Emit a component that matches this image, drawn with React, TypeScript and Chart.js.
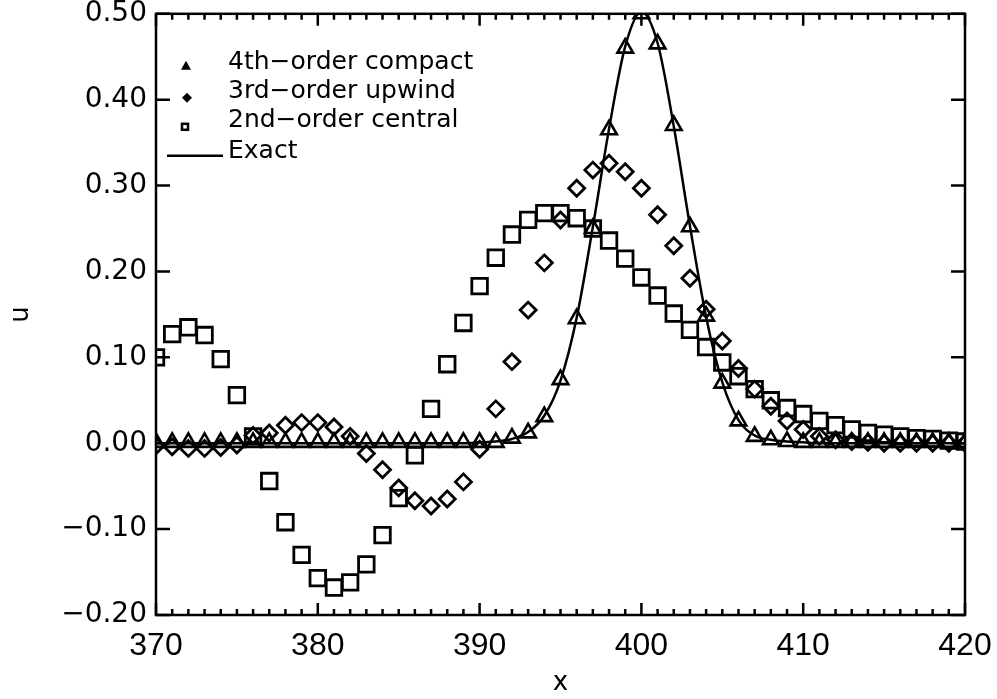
import React, { useEffect, useRef } from 'react';
import { Chart, registerables } from 'chart.js';

Chart.register(...registerables);

const xValues = [
  370, 371, 372, 373, 374, 375, 376, 377, 378, 379,
  380, 381, 382, 383, 384, 385, 386, 387, 388, 389,
  390, 391, 392, 393, 394, 395, 396, 397, 398, 399,
  400, 401, 402, 403, 404, 405, 406, 407, 408, 409,
  410, 411, 412, 413, 414, 415, 416, 417, 418, 419, 420,
];

const compact4 = [
  0.001, 0.001, 0.001, 0.001, 0.001, 0.001, 0.001, 0.001, 0.001, 0.001,
  0.001, 0.001, 0.001, 0.001, 0.001, 0.001, 0.001, 0.001, 0.001, 0.001,
  0.001, 0.001, 0.006, 0.012, 0.031, 0.074, 0.145, 0.250, 0.365, 0.460,
  0.500, 0.465, 0.370, 0.252, 0.148, 0.070, 0.026, 0.008, 0.004, 0.002,
  0.001, 0.001, 0.001, 0.001, 0.001, 0.001, 0.001, 0.001, 0.001, 0.001, 0.001,
];

const upwind3 = [
  -0.003, -0.004, -0.006, -0.006, -0.005, -0.002, 0.009, 0.012, 0.021, 0.024,
  0.024, 0.019, 0.008, -0.012, -0.031, -0.052, -0.067, -0.073, -0.065, -0.045,
  -0.007, 0.040, 0.095, 0.155, 0.210, 0.260, 0.297, 0.318, 0.326, 0.316,
  0.297, 0.266, 0.230, 0.192, 0.156, 0.119, 0.087, 0.063, 0.043, 0.026,
  0.016, 0.008, 0.004, 0.002, 0.001, 0, 0, 0, 0, 0, 0,
];

const central2 = [
  0.100, 0.127, 0.135, 0.126, 0.098, 0.056, 0.008, -0.044, -0.092, -0.130,
  -0.157, -0.168, -0.162, -0.141, -0.107, -0.064, -0.014, 0.040, 0.092, 0.140,
  0.183, 0.216, 0.243, 0.260, 0.268, 0.268, 0.262, 0.250, 0.236, 0.215,
  0.193, 0.172, 0.151, 0.132, 0.112, 0.094, 0.078, 0.063, 0.050, 0.041,
  0.034, 0.026, 0.021, 0.016, 0.012, 0.010, 0.008, 0.006, 0.005, 0.003, 0.002,
];

const exact = [
  0, 0, 0, 0, 0, 0, 0, 0, 0, 0,
  0, 0, 0, 0, 0, 0, 0, 0, 0, 0,
  0.001, 0.002, 0.005, 0.013, 0.032, 0.073, 0.146, 0.252, 0.366, 0.462,
  0.502, 0.466, 0.369, 0.253, 0.147, 0.071, 0.027, 0.009, 0.004, 0.002,
  0.001, 0, 0, 0, 0, 0, 0, 0, 0, 0, 0,
];

const xTickLabels = [370, 380, 390, 400, 410, 420];
const yTickValues = [-0.2, -0.1, 0.0, 0.1, 0.2, 0.3, 0.4, 0.5];
const xMinorStep = 1;
const seriesNames = ['4th\u2212order compact', '3rd\u2212order upwind', '2nd\u2212order central', 'Exact'];

const toPoints = (ys: number[]) => ys.map((y, i) => ({ x: xValues[i], y }));

const framePlugin = {
  id: 'frameTicksLegend',
  afterDatasetsDraw(chart: any) {
    const { ctx, chartArea: a, scales } = chart;
    const xs = scales.x;
    const ys = scales.y;
    ctx.save();
    ctx.strokeStyle = '#000';
    ctx.fillStyle = '#000';
    ctx.lineWidth = 2.5;
    ctx.lineCap = 'butt';
    ctx.strokeRect(a.left, a.top, a.right - a.left, a.bottom - a.top);
    ctx.beginPath();
    const xmin = xTickLabels[0];
    const xmax = xTickLabels[xTickLabels.length - 1];
    for (let v = xmin; v <= xmax + 1e-9; v += xMinorStep) {
      const px = xs.getPixelForValue(v);
      const len = Math.abs(v % 10) < 1e-9 ? 12 : 6;
      ctx.moveTo(px, a.bottom);
      ctx.lineTo(px, a.bottom - len);
      ctx.moveTo(px, a.top);
      ctx.lineTo(px, a.top + len);
    }
    for (const v of yTickValues) {
      const py = ys.getPixelForValue(v);
      ctx.moveTo(a.left, py);
      ctx.lineTo(a.left + 14, py);
      ctx.moveTo(a.right, py);
      ctx.lineTo(a.right - 14, py);
    }
    ctx.stroke();

    // legend
    const textX = a.left + 72;
    const mx = a.left + 30;
    const rows = [a.top + 49, a.top + 78, a.top + 107, a.top + 138];
    ctx.font = '25px "DejaVu Sans"';
    ctx.textBaseline = 'middle';
    ctx.textAlign = 'left';
    seriesNames.forEach((name, i) => {
      ctx.fillText(name, textX, rows[i]);
    });
    // small filled triangle
    ctx.beginPath();
    const ty = rows[0] + 3;
    ctx.moveTo(mx, ty - 5);
    ctx.lineTo(mx + 5, ty + 4);
    ctx.lineTo(mx - 5, ty + 4);
    ctx.closePath();
    ctx.fill();
    // small filled diamond
    const dy = rows[1] + 6;
    ctx.beginPath();
    ctx.moveTo(mx + 1, dy - 5);
    ctx.lineTo(mx + 6, dy);
    ctx.lineTo(mx + 1, dy + 5);
    ctx.lineTo(mx - 4, dy);
    ctx.closePath();
    ctx.fill();
    // small square
    const sy = rows[2] + 6;
    ctx.lineWidth = 2.5;
    ctx.strokeRect(mx - 4, sy - 3, 6, 6);
    // line
    ctx.beginPath();
    ctx.lineWidth = 2.5;
    ctx.moveTo(a.left + 11, rows[3] + 4);
    ctx.lineTo(a.left + 67, rows[3] + 4);
    ctx.stroke();
    ctx.restore();
  },
};

export default function App() {
  const canvasRef = useRef<HTMLCanvasElement | null>(null);

  useEffect(() => {
    document.body.style.margin = '0';
    const canvas = canvasRef.current;
    if (!canvas) return;
    const chart = new Chart(canvas, {
      type: 'scatter',
      data: {
        datasets: [
          {
            label: seriesNames[3],
            data: toPoints(exact),
            showLine: true,
            pointRadius: 0,
            borderColor: '#000',
            borderWidth: 2.5,
            cubicInterpolationMode: 'monotone',
            order: 4,
          } as any,
          {
            label: seriesNames[0],
            data: toPoints(compact4),
            pointStyle: 'triangle',
            pointRadius: 9,
            pointBorderWidth: 2.6,
            borderColor: '#000',
            backgroundColor: 'rgba(0,0,0,0)',
            showLine: false,
            order: 3,
          },
          {
            label: seriesNames[1],
            data: toPoints(upwind3),
            pointStyle: 'rectRot',
            pointRadius: 8,
            pointBorderWidth: 2.8,
            borderColor: '#000',
            backgroundColor: 'rgba(0,0,0,0)',
            showLine: false,
            order: 2,
          },
          {
            label: seriesNames[2],
            data: toPoints(central2),
            pointStyle: 'rect',
            pointRadius: 11,
            pointBorderWidth: 2.8,
            borderColor: '#000',
            backgroundColor: 'rgba(0,0,0,0)',
            showLine: false,
            order: 1,
          },
        ],
      },
      options: {
        responsive: false,
        animation: false,
        layout: { padding: { top: 12, right: 32, left: 0, bottom: 0 } },
        plugins: {
          legend: { display: false },
          tooltip: { enabled: false },
        },
        scales: {
          x: {
            type: 'linear',
            min: 370,
            max: 420,
            afterBuildTicks: (scale: any) => {
              scale.ticks = xTickLabels.map((v) => ({ value: v }));
            },
            afterFit: (scale: any) => {
              scale.height = 84;
              scale.paddingLeft = 0;
              scale.paddingRight = 0;
            },
            grid: { display: false, drawTicks: false },
            border: { display: false },
            ticks: {
              color: '#000',
              padding: 12,
              maxRotation: 0,
              font: { family: '"Liberation Sans"', size: 32 },
              callback: (v: any) => String(v),
            },
            title: {
              display: true,
              text: 'x',
              color: '#000',
              font: { family: '"DejaVu Sans"', size: 26 },
              padding: { top: 0, bottom: 0 },
            },
          },
          y: {
            type: 'linear',
            min: -0.2,
            max: 0.5,
            afterBuildTicks: (scale: any) => {
              scale.ticks = yTickValues.map((v) => ({ value: v }));
            },
            afterFit: (scale: any) => {
              scale.width = 156;
              scale.paddingTop = 0;
              scale.paddingBottom = 0;
            },
            grid: { display: false, drawTicks: false },
            border: { display: false },
            ticks: {
              color: '#000',
              padding: 9,
              font: { family: '"DejaVu Sans"', size: 28 },
              callback: (v: any) => {
                const n = Number(v);
                const s = Math.abs(n).toFixed(2);
                return n < -1e-9 ? '\u2212' + s : s;
              },
            },
            title: {
              display: true,
              text: 'u',
              color: '#000',
              font: { family: '"DejaVu Sans"', size: 26 },
              padding: { top: 6, bottom: 0 },
            },
          },
        },
      },
      plugins: [framePlugin],
    });
    return () => chart.destroy();
  }, []);

  return (
    <div style={{ width: 997, height: 699 }}>
      <canvas ref={canvasRef} width={997} height={699} style={{ display: 'block' }} />
    </div>
  );
}
